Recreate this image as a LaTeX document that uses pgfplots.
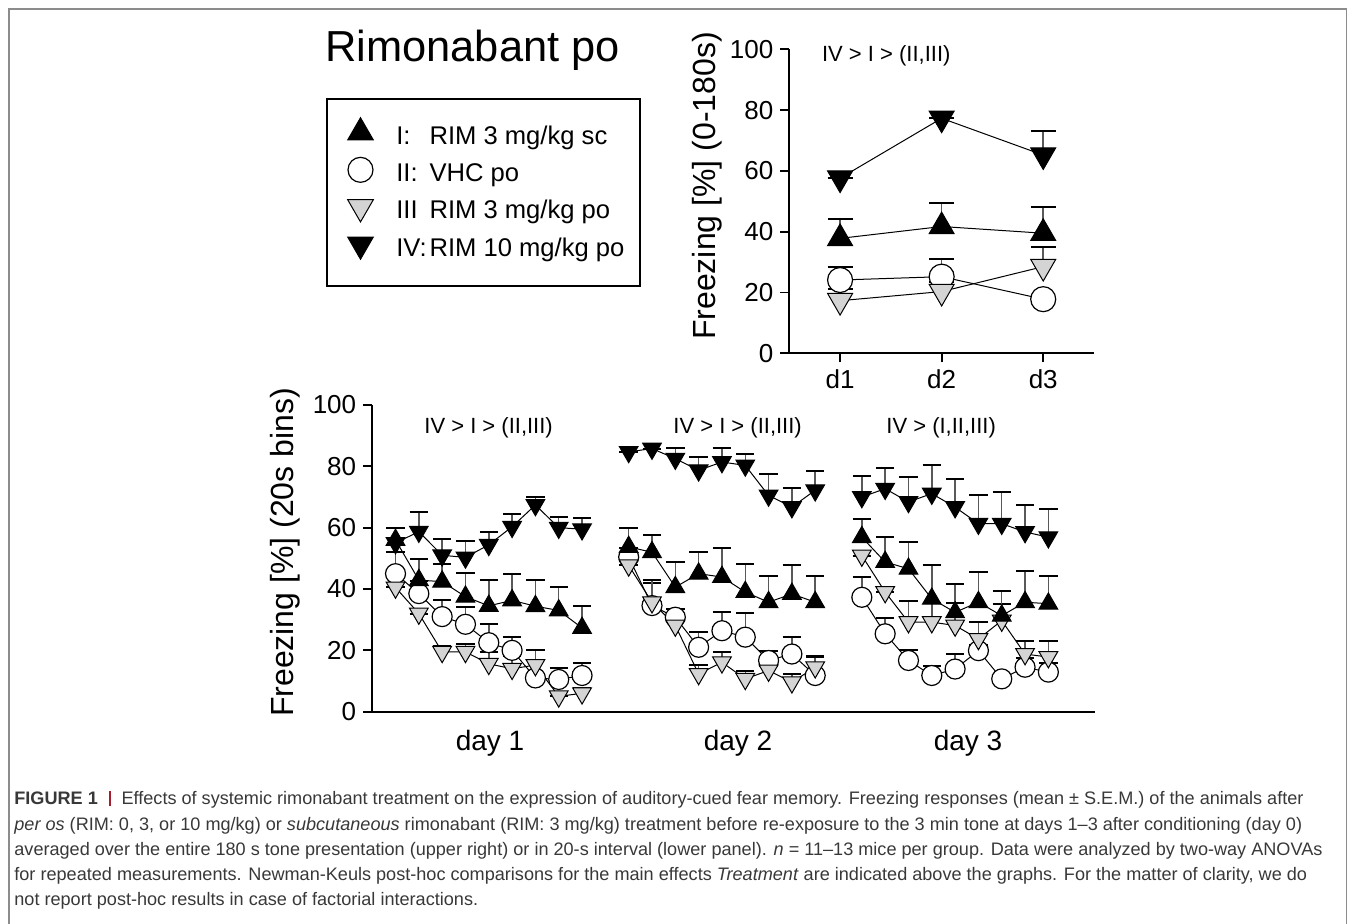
\documentclass[border=0pt]{standalone}
\usepackage{fontspec}
\setmainfont{Liberation Sans}
\usepackage{pgfplots}
\pgfplotsset{compat=1.18}

\definecolor{iiigray}{gray}{0.83}
\definecolor{capred}{RGB}{165,30,45}
\definecolor{capgray}{gray}{0.22}
\definecolor{framegray}{gray}{0.55}

\newcommand\capfont{\fontsize{9.05}{12.6}\selectfont}
% legend text: numeral column, label column, strut fixing the row height
\newcommand\legtxt[2]{\hspace*{9.5pt}\makebox[16.6pt][l]{#1}\makebox[94pt][l]{#2}\rule[-5.4pt]{0pt}{18.55pt}}

\pgfplotsset{
  mkI/.style={mark=triangle*, mark options={solid, fill=black, draw=black, line width=0.5pt, mark size=#1}},
  mkII/.style={mark=*, mark options={solid, fill=white, draw=black, line width=0.6pt, mark size=#1}},
  mkIII/.style={mark=triangle*, mark options={solid, fill=iiigray, draw=black, line width=0.5pt, mark size=#1, rotate=180}},
  mkIV/.style={mark=triangle*, mark options={solid, fill=black, draw=black, line width=0.5pt, mark size=#1, rotate=180}},
  ebar/.style={black, line width=0.5pt,
    /pgfplots/error bars/y dir=plus, /pgfplots/error bars/y explicit,
    /pgfplots/error bars/error bar style={line width=0.75pt, black!65},
    /pgfplots/error bars/error mark options={rotate=90, mark size=#1, line width=1pt, black}},
  frz/.style={scale only axis, axis x line*=bottom, axis y line*=left,
    ymin=0, ymax=100, ytick={0,20,...,100}, tick align=outside, major tick length=4.5pt,
    axis line style={line width=0.9pt}, tick style={line width=0.9pt, black},
    tick label style={font=\fontsize{13}{15}\selectfont},
    /pgf/number format/assume math mode=true, clip=false},
}

\begin{document}
\begin{tikzpicture}
\path[use as bounding box] (0,0) rectangle (677.5pt,462pt);
\draw[framegray, line width=0.7pt] (4.5pt,0pt) -- (4.5pt,457.5pt) -- (673.2pt,457.5pt) -- (673.2pt,0pt);
% frame of the legend box
\draw[black, line width=1pt] (163.65pt,412.5pt) rectangle (320pt,319pt);

% lower panel: 20 s bins, days 1-3
\begin{axis}[frz, at={(186.1pt,106.15pt)}, anchor=south west,
  width=361.4pt, height=153.35pt, xmin=0, xmax=31, xtick=\empty]
% day 1
\addplot[ebar=4.6pt, mkII=5pt] coordinates {(1,45) +- (0,7) (2,38.5) +- (0,4) (3,31) +- (0,5.5) (4,28.5) +- (0,5.5) (5,22.5) +- (0,6) (6,20) +- (0,4.5) (7,11) +- (0,0) (8,10.5) +- (0,3.8) (9,11.8) +- (0,4.2)};
\addplot[ebar=4.6pt, mkIII=5.4pt] coordinates {(1,40.5) +- (0,0) (2,32) +- (0,0) (3,19.5) +- (0,2) (4,19.5) +- (0,2.5) (5,15.6) +- (0,4) (6,14) +- (0,4) (7,15.2) +- (0,5) (8,5) +- (0,0) (9,6) +- (0,1.6)};
\addplot[ebar=4.6pt, mkI=5.4pt] coordinates {(1,56) +- (0,4) (2,42.9) +- (0,6.9) (3,42.4) +- (0,5.6) (4,37.5) +- (0,7.8) (5,34.5) +- (0,8.3) (6,36.3) +- (0,8.7) (7,34.4) +- (0,8.4) (8,33) +- (0,7.6) (9,27.3) +- (0,7.2)};
\addplot[ebar=4.6pt, mkIV=5.4pt] coordinates {(1,55) +- (0,5) (2,58.7) +- (0,6.3) (3,51) +- (0,5.3) (4,50.3) +- (0,5.4) (5,54.4) +- (0,4.2) (6,60.3) +- (0,4) (7,67.4) +- (0,2.6) (8,60) +- (0,3.6) (9,59.5) +- (0,3.5)};
% day 2
\addplot[ebar=4.6pt, mkII=5pt] coordinates {(11,50.4) +- (0,3) (12,34.6) +- (0,7.3) (13,30.8) +- (0,2.7) (14,21) +- (0,5.1) (15,26.4) +- (0,6) (16,24.3) +- (0,7.9) (17,16.7) +- (0,3.2) (18,18.8) +- (0,5.5) (19,11.8) +- (0,6.3)};
\addplot[ebar=4.6pt, mkIII=5.4pt] coordinates {(11,47.7) +- (0,0) (12,35.7) +- (0,7.1) (13,28.1) +- (0,2) (14,12.3) +- (0,2.9) (15,16.1) +- (0,3.5) (16,10.7) +- (0,2.7) (17,13.4) +- (0,1.6) (18,9.6) +- (0,2.7) (19,14.5) +- (0,3.3)};
\addplot[ebar=4.6pt, mkI=5.4pt] coordinates {(11,53.7) +- (0,6.2) (12,52) +- (0,5.5) (13,40.6) +- (0,8.2) (14,45) +- (0,7.2) (15,43.9) +- (0,9.5) (16,39) +- (0,9.2) (17,35.7) +- (0,8.7) (18,38.4) +- (0,9.3) (19,35.7) +- (0,8.5)};
\addplot[ebar=4.6pt, mkIV=5.4pt] coordinates {(11,84.7) +- (0,0) (12,85.8) +- (0,0) (13,82.5) +- (0,3.5) (14,78.7) +- (0,4.3) (15,81.4) +- (0,4.6) (16,80.3) +- (0,3.7) (17,70.5) +- (0,7.1) (18,66.7) +- (0,6.3) (19,72.2) +- (0,6.2)};
% day 3
\addplot[ebar=4.6pt, mkII=5pt] coordinates {(21,37.3) +- (0,6.6) (22,25.4) +- (0,5.1) (23,16.7) +- (0,3.5) (24,11.8) +- (0,3.2) (25,13.9) +- (0,4.9) (26,19.9) +- (0,2) (27,10.7) +- (0,0) (28,14.5) +- (0,3) (29,12.9) +- (0,3)};
\addplot[ebar=4.6pt, mkIII=5.4pt] coordinates {(21,50.9) +- (0,0) (22,39) +- (0,0) (23,29.2) +- (0,7) (24,29.2) +- (0,6.3) (25,28.1) +- (0,7.4) (26,23.7) +- (0,5.7) (27,29.7) +- (0,5.3) (28,18.8) +- (0,4.4) (29,17.8) +- (0,5.4)};
\addplot[ebar=4.6pt, mkI=5.4pt] coordinates {(21,56.9) +- (0,6) (22,48.8) +- (0,8.1) (23,46.6) +- (0,8.7) (24,36.8) +- (0,10.9) (25,32.4) +- (0,9.3) (26,35.7) +- (0,10) (27,31.3) +- (0,8.2) (28,35.7) +- (0,10.3) (29,35.2) +- (0,9.2)};
\addplot[ebar=4.6pt, mkIV=5.4pt] coordinates {(21,70) +- (0,6.7) (22,72.7) +- (0,6.9) (23,68.4) +- (0,8.1) (24,71.1) +- (0,9.2) (25,66.7) +- (0,9.3) (26,61.3) +- (0,9.4) (27,61.3) +- (0,10.3) (28,58.6) +- (0,8.7) (29,56.9) +- (0,9.3)};
\end{axis}

% upper panel: whole 180 s tone
\begin{axis}[frz, at={(394.65pt,285.35pt)}, anchor=south west,
  width=152.35pt, height=152pt, xmin=0.5, xmax=3.5, xtick={1,2,3}, xticklabels={d1,d2,d3},
  legend image code/.code={\draw[#1] plot coordinates {(0pt,0pt)};},
  legend style={at={(-1.5163,0.8513)}, anchor=north west, draw=none, fill=none,
    inner xsep=10pt, inner ysep=9.5pt, row sep=0pt, font=\fontsize{12.8}{15}\selectfont},
  legend cell align=left]
\addplot[forget plot, ebar=6.25pt, mkI=7.2pt] coordinates {(1,37.8) +- (0,6.5) (2,41.7) +- (0,7.8) (3,39.5) +- (0,8.5)};
\addplot[forget plot, ebar=6.25pt, mkII=6.25pt] coordinates {(1,24.1) +- (0,4.2) (2,25.2) +- (0,5.7) (3,17.8) +- (0,0)};
\addplot[forget plot, ebar=6.25pt, mkIII=7.2pt] coordinates {(1,17.3) +- (0,3.8) (2,20.3) +- (0,3.1) (3,28.5) +- (0,6.4)};
\addplot[forget plot, ebar=6.25pt, mkIV=7.2pt] coordinates {(1,57.6) +- (0,0) (2,77.3) +- (0,0) (3,65.2) +- (0,7.9)};
\addlegendimage{mkI=7.4pt}
\addlegendentry{\legtxt{I:}{RIM 3 mg/kg sc}}
\addlegendimage{mkII=6.25pt}
\addlegendentry{\legtxt{II:}{VHC po}}
\addlegendimage{mkIII=7.4pt}
\addlegendentry{\legtxt{III}{RIM 3 mg/kg po}}
\addlegendimage{mkIV=7.4pt}
\addlegendentry{\legtxt{IV:}{RIM 10 mg/kg po}}
\end{axis}

% titles, labels, post-hoc notes
\node[anchor=base west, inner sep=0pt, font=\fontsize{21.7}{25}\selectfont] at (162.5pt,431.15pt) {Rimonabant po};
\node[anchor=base, rotate=90, inner sep=0pt, font=\fontsize{16}{18}\selectfont] at (357.5pt,369pt) {Freezing [\%] (0-180s)};
\node[anchor=base, rotate=90, inner sep=0pt, font=\fontsize{16}{18}\selectfont] at (146.65pt,185.75pt) {Freezing [\%] (20s bins)};
\node[anchor=base west, inner sep=0pt, font=\fontsize{11}{13}\selectfont] at (410.85pt,431.15pt) {IV > I > (II,III)};
\node[anchor=base west, inner sep=0pt, font=\fontsize{11}{13}\selectfont] at (212pt,245.35pt) {IV > I > (II,III)};
\node[anchor=base west, inner sep=0pt, font=\fontsize{11}{13}\selectfont] at (336.5pt,245.35pt) {IV > I > (II,III)};
\node[anchor=base west, inner sep=0pt, font=\fontsize{11}{13}\selectfont] at (443pt,245.35pt) {IV > (I,II,III)};
\node[anchor=base, inner sep=0pt, font=\fontsize{14}{16}\selectfont] at (245pt,86.65pt) {day 1};
\node[anchor=base, inner sep=0pt, font=\fontsize{14}{16}\selectfont] at (369pt,86.65pt) {day 2};
\node[anchor=base, inner sep=0pt, font=\fontsize{14}{16}\selectfont] at (484pt,86.65pt) {day 3};

% caption
\begin{scope}[every node/.style={anchor=base west, inner sep=0pt, font=\capfont, text=capgray}]
\node at (7pt,59.5pt) {\textbf{FIGURE 1}\hspace{0.6em}{\color{capred}\rule[-0.6pt]{1pt}{7.6pt}}\hspace{0.6em}Effects of systemic rimonabant treatment on the expression of auditory-cued fear memory. Freezing responses (mean ± S.E.M.) of the animals after};
\node at (7pt,46.65pt) {\textit{per os} (RIM: 0, 3, or 10 mg/kg) or \textit{subcutaneous} rimonabant (RIM: 3 mg/kg) treatment before re-exposure to the 3 min tone at days 1--3 after conditioning (day 0)};
\node at (7pt,34.25pt) {averaged over the entire 180 s tone presentation (upper right) or in 20-s interval (lower panel). \textit{n} = 11--13 mice per group. Data were analyzed by two-way ANOVAs};
\node at (7pt,21.75pt) {for repeated measurements. Newman-Keuls post-hoc comparisons for the main effects \textit{Treatment} are indicated above the graphs. For the matter of clarity, we do};
\node at (7pt,9pt) {not report post-hoc results in case of factorial interactions.};
\end{scope}
\end{tikzpicture}
\end{document}
